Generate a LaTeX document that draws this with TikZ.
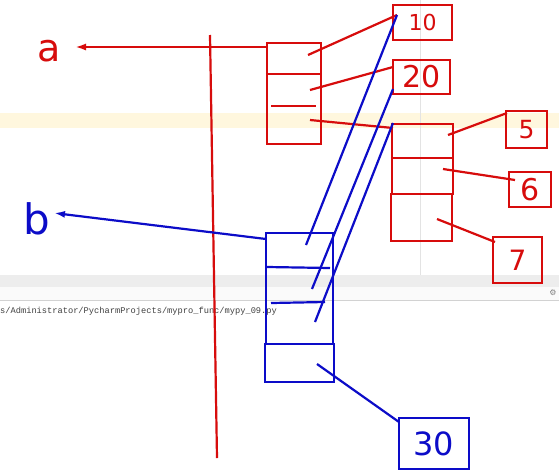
\documentclass[tikz,border=0pt]{standalone}
\usepackage{fontspec}
\setmainfont{DejaVu Sans}
\newfontfamily\monof{Liberation Mono}
\usetikzlibrary{arrows.meta,calc}
\definecolor{penred}{RGB}{215,12,12}
\definecolor{penblue}{RGB}{12,12,200}
\definecolor{bandyellow}{RGB}{255,247,222}
\newcommand{\fs}[1]{\fontsize{#1}{#1}\selectfont}
\begin{document}
\begin{tikzpicture}[x=1pt,y=-1pt,
  rbox/.style={draw=penred, line width=2.2pt, inner sep=0pt, rectangle, text=penred},
  bbox/.style={draw=penblue, line width=2.2pt, inner sep=0pt, rectangle, text=penblue},
  rline/.style={draw=penred, line width=2.2pt},
  bline/.style={draw=penblue, line width=2.2pt},
  tip/.style={-{Latex[length=11pt,width=7pt]}}
  ]
\useasboundingbox (0,0) rectangle (559,472);
% background screenshot remnants
\fill[white] (0,0) rectangle (559,472);
\fill[bandyellow] (0,113) rectangle (559,128);
\draw[gray!22] (420,0) -- (420,275);
\fill[gray!14] (0,275) rectangle (559,287);
\draw[gray!40] (0,287) -- (559,287);
\fill[gray!4] (0,287) rectangle (559,300);
\draw[gray!35] (0,300) -- (559,300);
\node[text=gray, font=\fs{8}, inner sep=0pt] (gear) at (553,293) {⚙};
\node[anchor=west, text=black!75, font=\monof\fs{8.7}, inner sep=0pt] (path) at (0,311) {s/Administrator/PycharmProjects/mypro\_func/mypy\_09.py};

% red vertical line
\coordinate (vtop) at (210,35);
\coordinate (vbot) at (217,458);
\draw[rline] (vtop) -- (vbot);

% labels a, b
\node[text=penred, font=\fs{38}, inner sep=0pt] (la) at (49,51) {a};
\node[text=penblue, font=\fs{42}, inner sep=0pt] (lb) at (37,219) {b};

% red boxes
\node[rbox, minimum width=54pt, minimum height=101pt] (A) at (294,93.5) {};
\draw[rline] (A.west |- 0,74) -- (A.east |- 0,74);
\coordinate (As1) at (271,106);
\coordinate (As2) at (316,106);
\draw[rline] (As1) -- (As2);

\node[rbox, minimum width=59pt, minimum height=35pt, font=\fs{22}] (n10) at (422.5,22.5) {10};
\node[rbox, minimum width=57pt, minimum height=34pt, font=\fs{30}] (n20) at (421.5,77) {20};
\node[rbox, minimum width=61pt, minimum height=70pt] (B) at (422.5,159) {};
\draw[rline] (B.west |- 0,158) -- (B.east |- 0,158);
\node[rbox, minimum width=61pt, minimum height=47pt] (C) at (421.5,217.5) {};
\node[rbox, minimum width=41pt, minimum height=37pt, font=\fs{25}] (n5) at (526.5,129.5) {5};
\node[rbox, minimum width=42pt, minimum height=35pt, font=\fs{30}] (n6) at (530,189.5) {6};
\node[rbox, minimum width=49pt, minimum height=46pt, font=\fs{28}] (n7) at (517.5,260) {7};

% blue boxes
\node[bbox, minimum width=67pt, minimum height=111pt] (D) at (299.5,288.5) {};
\coordinate (Dd1a) at (267,267);
\coordinate (Dd1b) at (330,268);
\coordinate (Dd2a) at (271,303);
\coordinate (Dd2b) at (325,302);
\draw[bline] (Dd1a) -- (Dd1b);
\draw[bline] (Dd2a) -- (Dd2b);
\node[bbox, minimum width=69pt, minimum height=38pt] (E) at (299.5,363) {};
\node[bbox, minimum width=70pt, minimum height=51pt, font=\fs{32}] (n30) at (434,443.5) {30};

% reference points
\coordinate (aS) at (267,47);
\coordinate (aT) at (75,47);
\coordinate (bS) at (266,239);
\coordinate (bT) at (54,213);
\coordinate (A1) at (308,55);
\coordinate (A2) at (310,90);
\coordinate (A3) at (310,120);
\coordinate (t10) at (397,15);
\coordinate (t20) at (393,67);
\coordinate (t20b) at (393,89);
\coordinate (tB) at (393,128);
\coordinate (tBb) at (393,123);
\coordinate (B1) at (448,135);
\coordinate (B2) at (443,169);
\coordinate (C1) at (437,219);
\coordinate (t5) at (507,113);
\coordinate (t6) at (515,180);
\coordinate (t7) at (495,242);
\coordinate (D1) at (306,245);
\coordinate (D2) at (312,289);
\coordinate (D3) at (315,322);
\coordinate (E1) at (317,364);
\coordinate (t30) at (399,422);

% arrows
\draw[rline, tip] (aS) -- (aT);
\draw[bline, tip] (bS) -- (bT);

% red connectors
\draw[rline] (A1) -- (t10);
\draw[rline] (A2) -- (t20);
\draw[rline] (A3) -- (tB);
\draw[rline] (B1) -- (t5);
\draw[rline] (B2) -- (t6);
\draw[rline] (C1) -- (t7);

% blue connectors
\draw[bline] (D1) -- (t10);
\draw[bline] (D2) -- (t20b);
\draw[bline] (D3) -- (tBb);
\draw[bline] (E1) -- (t30);
\end{tikzpicture}
\end{document}
